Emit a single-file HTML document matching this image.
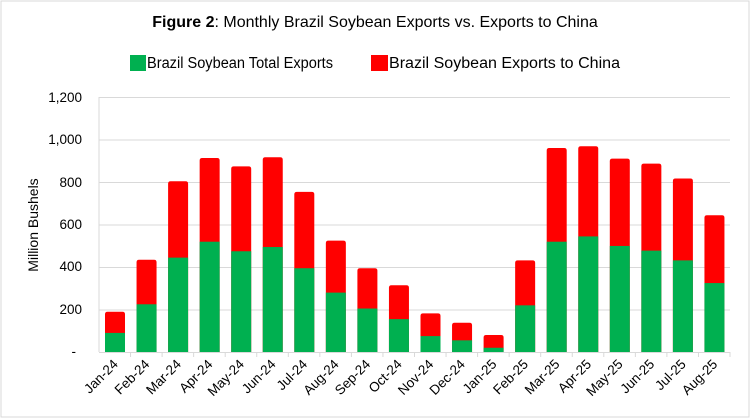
<!DOCTYPE html>
<html><head><style>
body{margin:0;background:#fff;}
svg{display:block;font-family:"Liberation Sans",Arial,sans-serif;}
</style></head><body>
<svg width="750" height="419" viewBox="0 0 750 419">
<rect x="1" y="1" width="748" height="416" fill="#fff" stroke="#d9d9d9"/>
<text x="375" y="27" text-anchor="middle" font-size="16" fill="#000"><tspan font-weight="bold">Figure 2</tspan>: Monthly Brazil Soybean Exports vs. Exports to China</text>
<rect x="130" y="55" width="16" height="16" fill="#00b050"/>
<text x="147" y="68" font-size="15.5" textLength="186" lengthAdjust="spacingAndGlyphs">Brazil Soybean Total Exports</text>
<rect x="371" y="55" width="17" height="16" fill="#ff0000"/>
<text x="389" y="68" font-size="15.5" textLength="231" lengthAdjust="spacingAndGlyphs">Brazil Soybean Exports to China</text>
<g stroke="#d9d9d9" stroke-width="1">
<line x1="99" y1="97.5" x2="730" y2="97.5"/>
<line x1="99" y1="140" x2="730" y2="140"/>
<line x1="99" y1="182.5" x2="730" y2="182.5"/>
<line x1="99" y1="225" x2="730" y2="225"/>
<line x1="99" y1="267.5" x2="730" y2="267.5"/>
<line x1="99" y1="310" x2="730" y2="310"/>
<line x1="99" y1="97" x2="99" y2="352"/>
</g>
<g font-size="13.5" text-anchor="end" fill="#000">
<text x="82" y="102">1,200</text>
<text x="82" y="144">1,000</text>
<text x="82" y="187">800</text>
<text x="82" y="229">600</text>
<text x="82" y="271">400</text>
<text x="82" y="314">200</text>
<text x="76" y="356">-</text>
</g>
<text transform="translate(38,225) rotate(-90)" text-anchor="middle" font-size="14">Million Bushels</text>
<g id="bars"></g>
<line x1="99" y1="352.5" x2="730" y2="352.5" stroke="#d9d9d9"/>
<g id="ticks" stroke="#d9d9d9"></g>
<g id="labels" font-size="13.5" text-anchor="end"></g>
</svg>
<script>
var t=[190,435,805,915,875,918,755,525,395,315,182,138,80,432,962,970,912,888,818,645];
var g=[90,225,445,520,475,495,395,280,205,155,75,55,20,220,520,545,500,478,432,325];
var n=["Jan-24","Feb-24","Mar-24","Apr-24","May-24","Jun-24","Jul-24","Aug-24","Sep-24","Oct-24","Nov-24","Dec-24","Jan-25","Feb-25","Mar-25","Apr-25","May-25","Jun-25","Jul-25","Aug-25"];
var s=254.5/1200,w=31.55,y0=352;
var B=document.getElementById("bars"),T=document.getElementById("ticks"),L=document.getElementById("labels"),h="",k="",l="";
for(var i=0;i<20;i++){var x=99+i*w+6;var yt=y0-t[i]*s,yg=y0-g[i]*s;
h+='<path d="M'+x+' '+y0+'V'+(yt+2.5)+'Q'+x+' '+yt+' '+(x+2.5)+' '+yt+'H'+(x+17.5)+'Q'+(x+20)+' '+yt+' '+(x+20)+' '+(yt+2.5)+'V'+y0+'Z" fill="#ff0000"/>';
h+='<rect x="'+x+'" y="'+yg+'" width="20" height="'+(y0-yg)+'" fill="#00b050"/>';
var tx=99+(i+1)*w;k+='<line x1="'+tx+'" y1="352" x2="'+tx+'" y2="357"/>';
var cx=99+i*w+w/2+4;l+='<text transform="translate('+cx+',365) rotate(-45)">'+n[i]+'</text>';}
B.innerHTML=h;T.innerHTML=k;L.innerHTML=l;
</script>
</body></html>
